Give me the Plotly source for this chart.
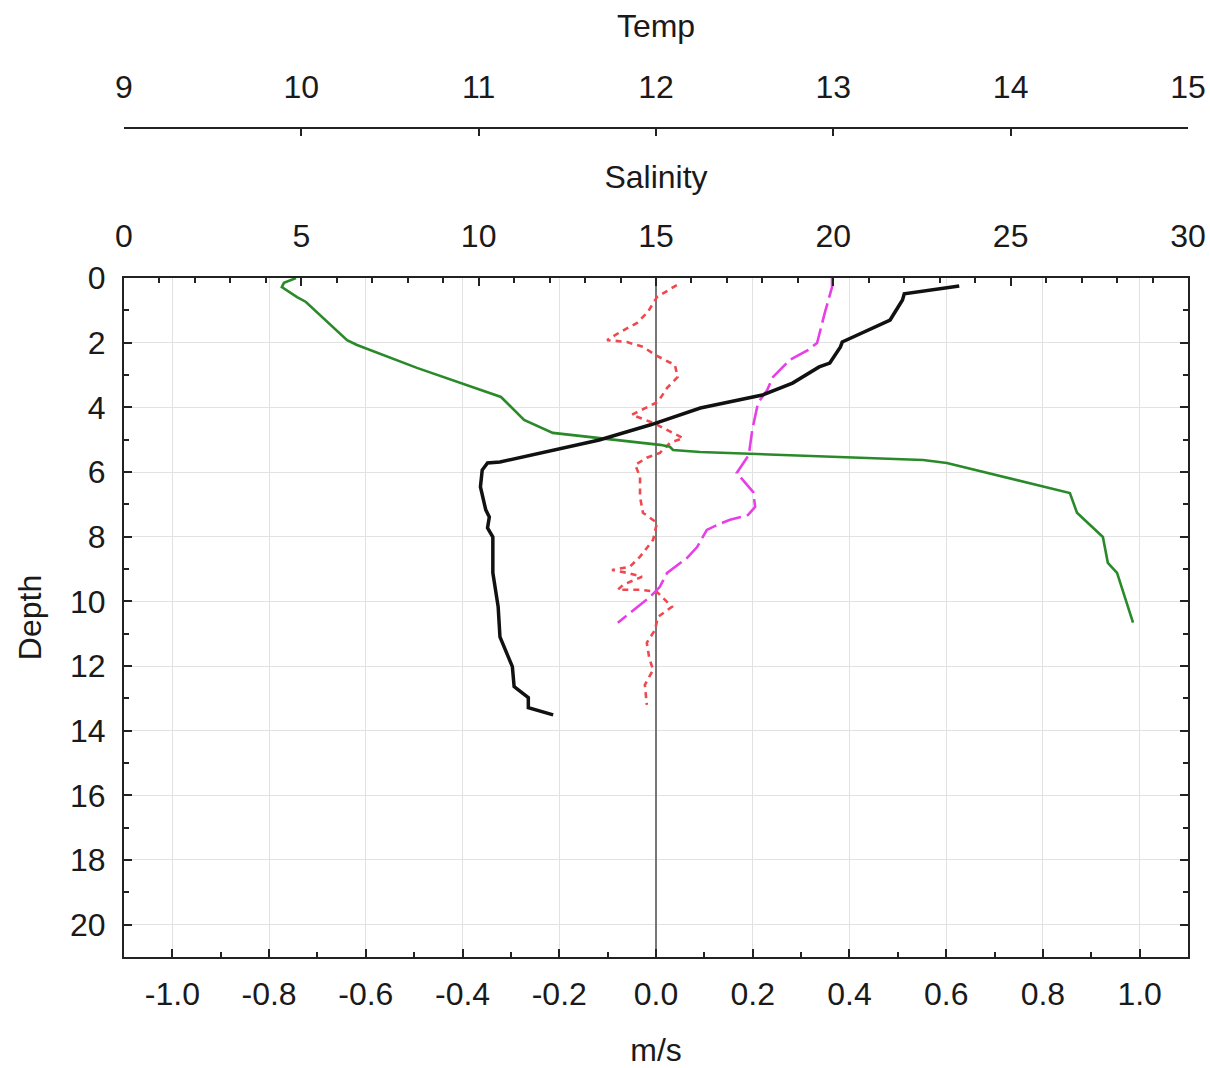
import plotly.graph_objects as go

# ---- Temperature profile (black) ----
temp_depth = [0.25, 0.49, 0.68, 1.30, 1.98, 2.13, 2.63, 2.75, 3.25, 3.62, 4.02, 4.23, 4.54, 5.01,
              5.69, 5.72, 5.94, 6.46, 7.17, 7.39, 7.73, 8.01, 9.12, 10.17, 11.10, 12.02, 12.64,
              12.98, 13.29, 13.51]
temp_val = [13.71, 13.40, 13.39, 13.32, 13.05, 13.04, 12.98, 12.92, 12.77, 12.60, 12.25, 12.14,
            11.97, 11.68, 11.12, 11.05, 11.02, 11.01, 11.04, 11.06, 11.05, 11.08, 11.08, 11.11,
            11.12, 11.19, 11.20, 11.28, 11.28, 11.42]

# ---- Salinity profile (green) ----
sal_depth = [0.00, 0.15, 0.28, 0.59, 0.74, 1.92, 2.07, 2.69, 2.78, 3.68, 4.39, 4.79, 4.95, 5.16,
             5.22, 5.32, 5.38, 5.63, 5.72, 6.65, 7.26, 8.01, 8.81, 9.12, 10.66]
sal_val = [4.85, 4.51, 4.45, 4.88, 5.13, 6.29, 6.57, 8.09, 8.26, 10.63, 11.28, 12.09, 13.42, 15.11,
           15.39, 15.48, 16.24, 22.53, 23.20, 26.67, 26.87, 27.60, 27.74, 28.00, 28.45]

# ---- Velocity component 1 (magenta, long dash) ----
v1_depth = [0.00, 0.28, 1.08, 2.01, 2.23, 2.53, 3.06, 3.46, 3.86, 4.70, 5.47, 6.03, 6.62, 7.08,
            7.33, 7.48, 7.64, 7.79, 8.32, 8.66, 9.12, 9.55, 9.86, 10.66]
v1_val = [0.364, 0.364, 0.349, 0.333, 0.314, 0.277, 0.242, 0.230, 0.211, 0.199, 0.192, 0.167,
          0.201, 0.205, 0.190, 0.153, 0.126, 0.105, 0.085, 0.064, 0.023, 0.008, -0.012, -0.079]

# ---- Velocity component 2 (red, short dash) ----
v2_depth = [0.22, 0.59, 1.05, 1.39, 1.67, 1.92, 1.98, 2.13, 2.41, 2.69, 3.06, 3.40, 3.83, 3.99,
            4.23, 4.48, 4.70, 4.95, 5.10, 5.41, 5.56, 5.78, 6.15, 6.77, 7.26, 7.57, 8.10, 8.62,
            8.93, 9.03, 9.12, 9.24, 9.49, 9.64, 9.64, 9.71, 10.17, 10.48, 10.88, 11.28, 11.75,
            12.12, 12.58, 13.20]
v2_val = [0.043, 0.002, -0.017, -0.039, -0.074, -0.101, -0.060, -0.027, 0.002, 0.039, 0.045,
          0.023, 0.004, -0.019, -0.050, -0.006, 0.023, 0.056, 0.029, 0.008, -0.019, -0.043,
          -0.033, -0.033, -0.027, 0.002, -0.006, -0.033, -0.054, -0.091, -0.060, -0.029,
          -0.068, -0.079, -0.033, 0.002, 0.033, 0.004, -0.002, -0.019, -0.014, -0.006,
          -0.023, -0.019]

ms_ticks = [-1.0, -0.8, -0.6, -0.4, -0.2, 0.0, 0.2, 0.4, 0.6, 0.8, 1.0]
depth_ticks = [0, 2, 4, 6, 8, 10, 12, 14, 16, 18, 20]

FONT = "Liberation Sans, Arial, sans-serif"
FS = 32
TXT = "#1a1a1a"

fig = go.Figure()
fig.add_trace(go.Scatter(x=v2_val, y=v2_depth, xaxis="x", yaxis="y", mode="lines",
                         line=dict(color="#f0484f", width=2.6, dash="6px,5px"), showlegend=False))
fig.add_trace(go.Scatter(x=v1_val, y=v1_depth, xaxis="x", yaxis="y", mode="lines",
                         line=dict(color="#e83ee8", width=2.6, dash="20px,6px"), showlegend=False))
fig.add_trace(go.Scatter(x=sal_val, y=sal_depth, xaxis="x2", yaxis="y", mode="lines",
                         line=dict(color="#2a8a2a", width=2.6), showlegend=False))
fig.add_trace(go.Scatter(x=temp_val, y=temp_depth, xaxis="x3", yaxis="y", mode="lines",
                         line=dict(color="#111111", width=3.5), showlegend=False))

top_dom = 0.7095
fig.update_layout(
    width=1210, height=1068,
    margin=dict(l=124, r=22, t=0, b=111),
    paper_bgcolor="white", plot_bgcolor="white",
    font=dict(family=FONT, size=FS, color=TXT),
    xaxis=dict(
        range=[-1.1, 1.1], tickvals=ms_ticks, ticktext=[f"{t:.1f}" for t in ms_ticks],
        ticks="inside", ticklen=8, tickwidth=2, tickcolor="#222",
        minor=dict(dtick=0.1, tick0=0, ticks="inside", ticklen=5, tickwidth=1.5, tickcolor="#222",
                   showgrid=False),
        showline=True, linecolor="#222", linewidth=2, mirror=True,
        showgrid=True, gridcolor="#e2e2e2", gridwidth=1,
        zeroline=True, zerolinecolor="#777777", zerolinewidth=1.5,
        ticklabelstandoff=8, ticklabeloverflow="allow",
        title=dict(text="m/s", standoff=44, font=dict(size=FS)),
        automargin=False,
    ),
    xaxis2=dict(
        range=[0, 30], overlaying="x", side="top", anchor="y",
        dtick=5, tick0=0, ticks="inside", ticklen=8, tickwidth=2, tickcolor="#222",
        minor=dict(dtick=1, tick0=0, ticks="inside", ticklen=5, tickwidth=1.5, tickcolor="#222",
                   showgrid=False),
        showline=True, linecolor="#222", linewidth=2,
        showgrid=False, zeroline=False,
        ticklabelstandoff=16, ticklabeloverflow="allow",
        title=dict(text="Salinity", standoff=20, font=dict(size=FS)),
        automargin=False,
    ),
    xaxis3=dict(
        range=[9, 15], overlaying="x", side="top", anchor="free", position=0.8663,
        dtick=1, tick0=9, ticks="inside", ticklen=7, tickwidth=2, tickcolor="#222",
        showline=True, linecolor="#222", linewidth=2,
        showgrid=False, zeroline=False,
        ticklabelstandoff=16, ticklabeloverflow="allow",
        title=dict(text="Temp", standoff=21, font=dict(size=FS)),
        automargin=False,
    ),
    yaxis=dict(
        range=[21, 0], domain=[0, top_dom], tickvals=depth_ticks,
        ticks="inside", ticklen=8, tickwidth=2, tickcolor="#222",
        minor=dict(dtick=1, tick0=0, ticks="inside", ticklen=5, tickwidth=1.5, tickcolor="#222",
                   showgrid=False),
        showline=True, linecolor="#222", linewidth=2, mirror="ticks",
        showgrid=True, gridcolor="#e2e2e2", gridwidth=1, zeroline=False,
        ticklabelstandoff=10, ticklabeloverflow="allow",
        title=dict(text="Depth", standoff=19, font=dict(size=FS)),
        automargin=False,
    ),
)

fig.write_html(
    "out.html",
    config={"displayModeBar": False},
    post_script="document.body.style.margin='0';document.body.style.overflow='hidden';",
)
